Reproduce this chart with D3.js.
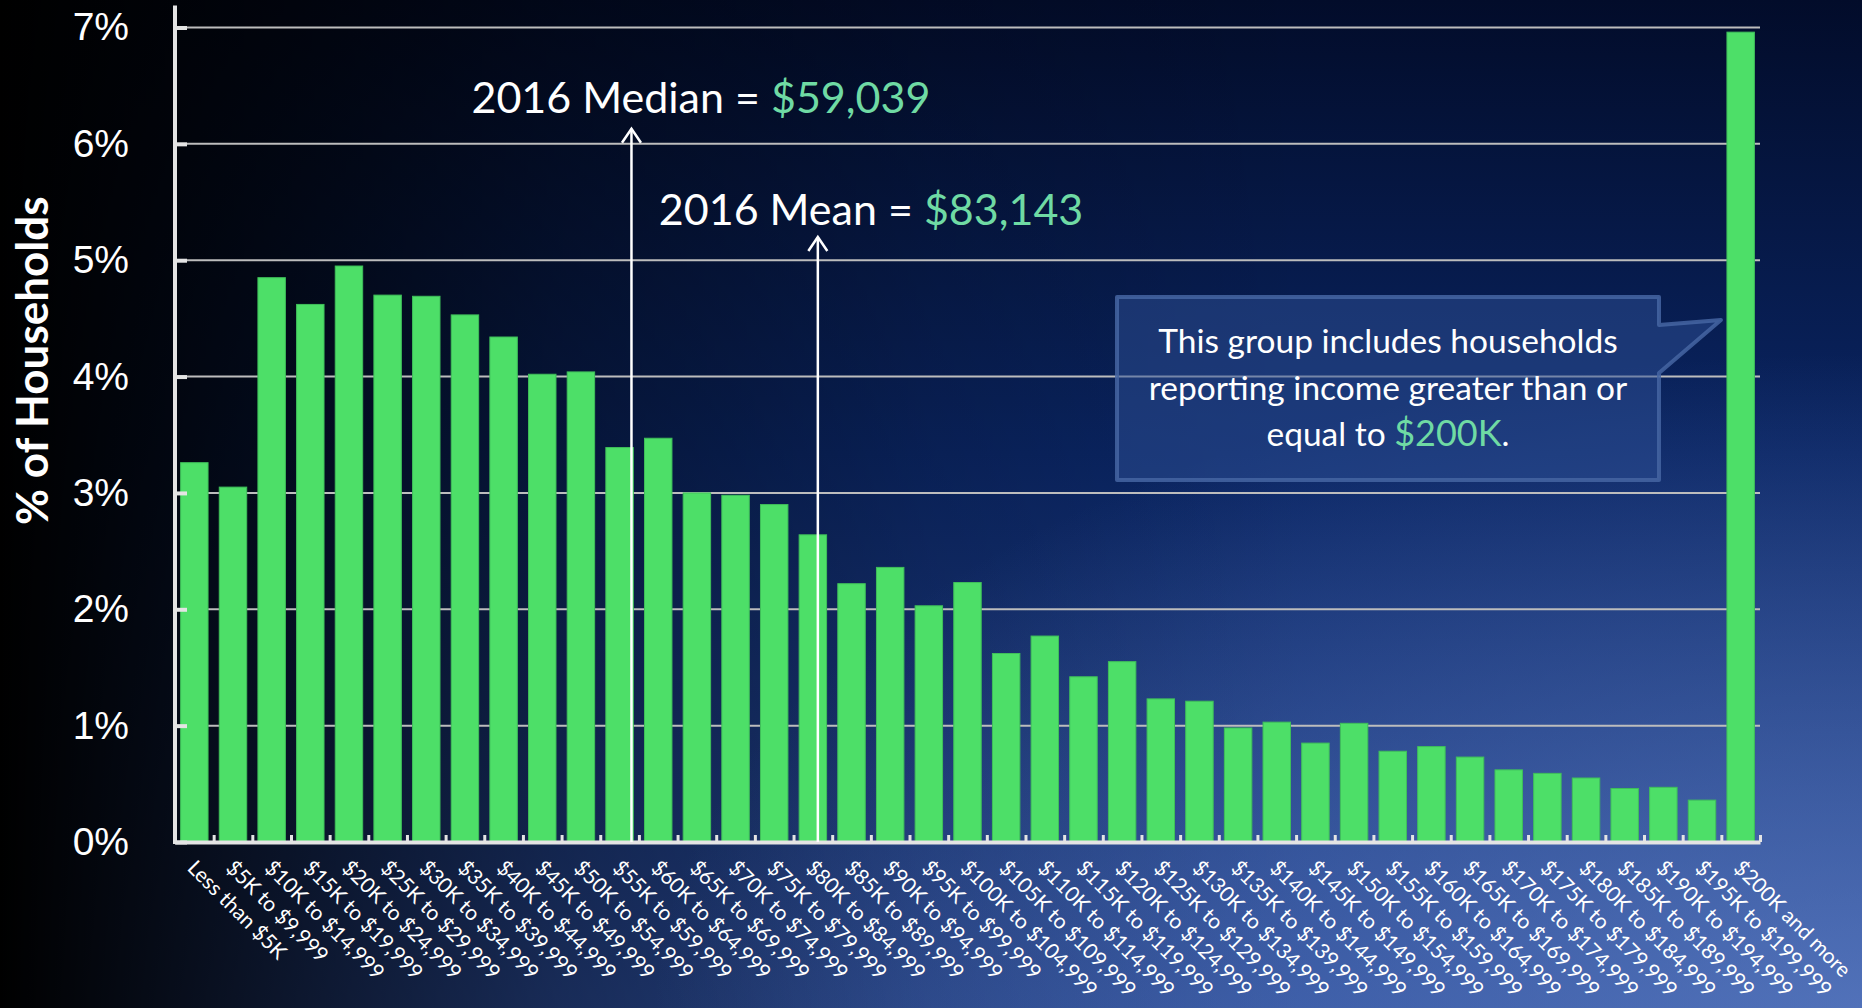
<!DOCTYPE html>
<html>
<head>
<meta charset="utf-8">
<script src="https://cdn.jsdelivr.net/npm/d3@7"></script>
<style>
  html, body { margin: 0; padding: 0; background: #000; overflow: hidden; }
  svg { display: block; font-family: Lato, "Open Sans", sans-serif; }
</style>
</head>
<body>
<div id="chart"></div>
<script>
// household income brackets, 2016
const categories = [
    "Less than $5K", "$5K to $9,999", "$10K to $14,999", "$15K to $19,999",
    "$20K to $24,999", "$25K to $29,999", "$30K to $34,999", "$35K to $39,999",
    "$40K to $44,999", "$45K to $49,999", "$50K to $54,999", "$55K to $59,999",
    "$60K to $64,999", "$65K to $69,999", "$70K to $74,999", "$75K to $79,999",
    "$80K to $84,999", "$85K to $89,999", "$90K to $94,999", "$95K to $99,999",
    "$100K to $104,999", "$105K to $109,999", "$110K to $114,999", "$115K to $119,999",
    "$120K to $124,999", "$125K to $129,999", "$130K to $134,999", "$135K to $139,999",
    "$140K to $144,999", "$145K to $149,999", "$150K to $154,999", "$155K to $159,999",
    "$160K to $164,999", "$165K to $169,999", "$170K to $174,999", "$175K to $179,999",
    "$180K to $184,999", "$185K to $189,999", "$190K to $194,999", "$195K to $199,999",
    "$200K and more"
];

// % of households in each bracket
const shares = [
    3.26, 3.05, 4.85, 4.62, 4.95, 4.70, 4.69, 4.53, 4.34, 4.02,
    4.04, 3.39, 3.47, 3.00, 2.98, 2.90, 2.64, 2.22, 2.36, 2.03,
    2.23, 1.62, 1.77, 1.42, 1.55, 1.23, 1.21, 0.98, 1.03, 0.85,
    1.02, 0.78, 0.82, 0.73, 0.62, 0.59, 0.55, 0.46, 0.47, 0.36,
    6.96
];

const yTicks = [0, 1, 2, 3, 4, 5, 6, 7];
const yTitle = "% of Households";

const bracketWidth = 5000;
const medianIncome = 59039;
const meanIncome = 83143;
const medianLabel = ["2016 Median = ", "$59,039"];
const meanLabel = ["2016 Mean = ", "$83,143"];

const calloutLines = [
    [["This group includes households", false]],
    [["reporting income greater than or", false]],
    [["equal to ", false], ["$200K", true], [".", false]]
];

const W = 1862, H = 1008;
const plot = {left: 175, right: 1760, top: 27.5, bottom: 842};

const green = "#4ddf68";
const mint = "#6fdaa4";

const svg = d3.select("#chart").append("svg")
    .attr("width", W)
    .attr("height", H)
    .attr("viewBox", `0 0 ${W} ${H}`);

// background
const defs = svg.append("defs");

const bgV = defs.append("linearGradient").attr("id", "bgV")
    .attr("x1", 0).attr("y1", 0).attr("x2", 0).attr("y2", 1);
bgV.append("stop").attr("offset", 0).attr("stop-color", "#020c2a");
bgV.append("stop").attr("offset", 0.45).attr("stop-color", "#0a2563");
bgV.append("stop").attr("offset", 1).attr("stop-color", "#2a4b97");

const bgH = defs.append("linearGradient").attr("id", "bgH")
    .attr("x1", 0).attr("y1", 0).attr("x2", 1).attr("y2", 0);
[[0, 1], [0.08, 0.85], [0.3, 0.42], [0.5, 0.15], [0.7, 0]].forEach(([o, a]) => {
    bgH.append("stop").attr("offset", o).attr("stop-color", "#000").attr("stop-opacity", a);
});

const glow = defs.append("radialGradient").attr("id", "bgGlow")
    .attr("cx", 1).attr("cy", 1).attr("r", 0.65);
glow.append("stop").attr("offset", 0).attr("stop-color", "#6b8bd0").attr("stop-opacity", 0.6);
glow.append("stop").attr("offset", 1).attr("stop-color", "#6b8bd0").attr("stop-opacity", 0);

["bgV", "bgH", "bgGlow"].forEach(id => {
    svg.append("rect").attr("width", W).attr("height", H).attr("fill", `url(#${id})`);
});

// scales
const x = d3.scaleBand()
    .domain(categories)
    .range([plot.left, plot.right])
    .paddingInner(0.29)
    .paddingOuter(0.145);

const xIncome = d3.scaleLinear()
    .domain([0, bracketWidth * categories.length])
    .range([plot.left, plot.right]);

const y = d3.scaleLinear()
    .domain([0, 7])
    .range([plot.bottom, plot.top]);

// gridlines
svg.append("g")
    .selectAll("line")
    .data(yTicks.filter(t => t > 0))
    .enter()
    .append("line")
        .attr("x1", plot.left)
        .attr("x2", plot.right)
        .attr("y1", d => y(d))
        .attr("y2", d => y(d))
        .attr("stroke", "#bdbdbd")
        .attr("stroke-width", 2);

// bars
svg.append("g")
    .selectAll("rect")
    .data(shares)
    .enter()
    .append("rect")
        .attr("x", (d, i) => x(categories[i]))
        .attr("y", d => y(d))
        .attr("width", x.bandwidth())
        .attr("height", d => y(0) - y(d))
        .attr("fill", green)
        .attr("stroke", "#3fbf5a")
        .attr("stroke-width", 1);

// y axis
const yAxis = svg.append("g")
    .attr("transform", `translate(${plot.left},0)`)
    .call(d3.axisLeft(y)
        .tickValues(yTicks)
        .tickSize(-12)
        .tickSizeOuter(0)
        .tickPadding(46)
        .tickFormat(d => d + "%"));

yAxis.select(".domain").remove();
yAxis.selectAll(".tick line")
    .attr("stroke", "#e4e4e4")
    .attr("stroke-width", 4);
yAxis.selectAll(".tick text")
    .attr("fill", "#fff")
    .style("font-size", "39px");

svg.append("line")
    .attr("x1", plot.left).attr("x2", plot.left)
    .attr("y1", plot.top - 22).attr("y2", plot.bottom + 2)
    .attr("stroke", "#e4e4e4")
    .attr("stroke-width", 4);

// x axis: ticks sit on bracket boundaries
const xAxis = svg.append("g")
    .attr("transform", `translate(0,${plot.bottom})`)
    .call(d3.axisBottom(xIncome)
        .tickValues(d3.range(0, bracketWidth * categories.length + 1, bracketWidth))
        .tickSize(-7)
        .tickSizeOuter(0)
        .tickFormat(""));

xAxis.select(".domain")
    .attr("stroke", "#e4e4e4")
    .attr("stroke-width", 4);
xAxis.selectAll(".tick line")
    .attr("stroke", "#e4e4e4")
    .attr("stroke-width", 3);

svg.append("g")
    .selectAll("text")
    .data(categories)
    .enter()
    .append("text")
        .attr("transform", d => `translate(${x(d) + x.bandwidth() / 2 + 3},${plot.bottom + 16}) rotate(45)`)
        .attr("dy", "0.75em")
        .attr("fill", "#fff")
        .style("font-size", "21px")
        .text(d => d);

// y title
svg.append("text")
    .attr("transform", `translate(48,${(y(0) + y(7)) / 2 - 74}) rotate(-90)`)
    .attr("text-anchor", "middle")
    .attr("fill", "#fff")
    .style("font-size", "44px")
    .style("font-weight", 700)
    .text(yTitle);

// median / mean markers
function marker(income, topValue, label, textOffset, baselineGap){
    const cx = xIncome(income);
    const top = y(topValue);
    const g = svg.append("g");

    g.append("line")
        .attr("x1", cx).attr("x2", cx)
        .attr("y1", y(0)).attr("y2", top)
        .attr("stroke", "#fff")
        .attr("stroke-width", 2.5);

    g.append("path")
        .attr("d", `M${cx - 9.5},${top + 14}L${cx},${top}L${cx + 9.5},${top + 14}`)
        .attr("fill", "none")
        .attr("stroke", "#fff")
        .attr("stroke-width", 2.5);

    const t = g.append("text")
        .attr("x", cx + textOffset)
        .attr("y", top - baselineGap)
        .attr("fill", "#fff")
        .style("font-size", "43px");
    t.append("tspan").text(label[0]);
    t.append("tspan").attr("fill", mint).text(label[1]);
}

marker(medianIncome, 6.13, medianLabel, -160, 16);
marker(meanIncome, 5.2, meanLabel, -159, 12);

// callout for the top bracket
const box = {left: 1117, right: 1659, top: 297, bottom: 480};
const lastBar = categories[categories.length - 1];
const tipX = x(lastBar) - 6;

svg.append("path")
    .attr("d", `M${box.left},${box.top}H${box.right}V${box.top + 28}L${tipX},${box.top + 23}L${box.right},${box.top + 76}V${box.bottom}H${box.left}Z`)
    .attr("fill", "#2d5096")
    .attr("fill-opacity", 0.5)
    .attr("stroke", "#4565a2")
    .attr("stroke-opacity", 0.85)
    .attr("stroke-width", 4)
    .attr("stroke-linejoin", "round");

const callout = svg.append("text")
    .attr("text-anchor", "middle")
    .attr("fill", "#fff")
    .style("font-size", "33.5px");

calloutLines.forEach((line, i) => {
    const row = callout.append("tspan")
        .attr("x", (box.left + box.right) / 2)
        .attr("y", box.top + 56 + i * 46.7);
    line.forEach(([str, hl]) => {
        row.append("tspan")
            .attr("fill", hl ? mint : "#fff")
            .style("font-size", hl ? "36px" : null)
            .text(str);
    });
});
</script>
</body>
</html>
